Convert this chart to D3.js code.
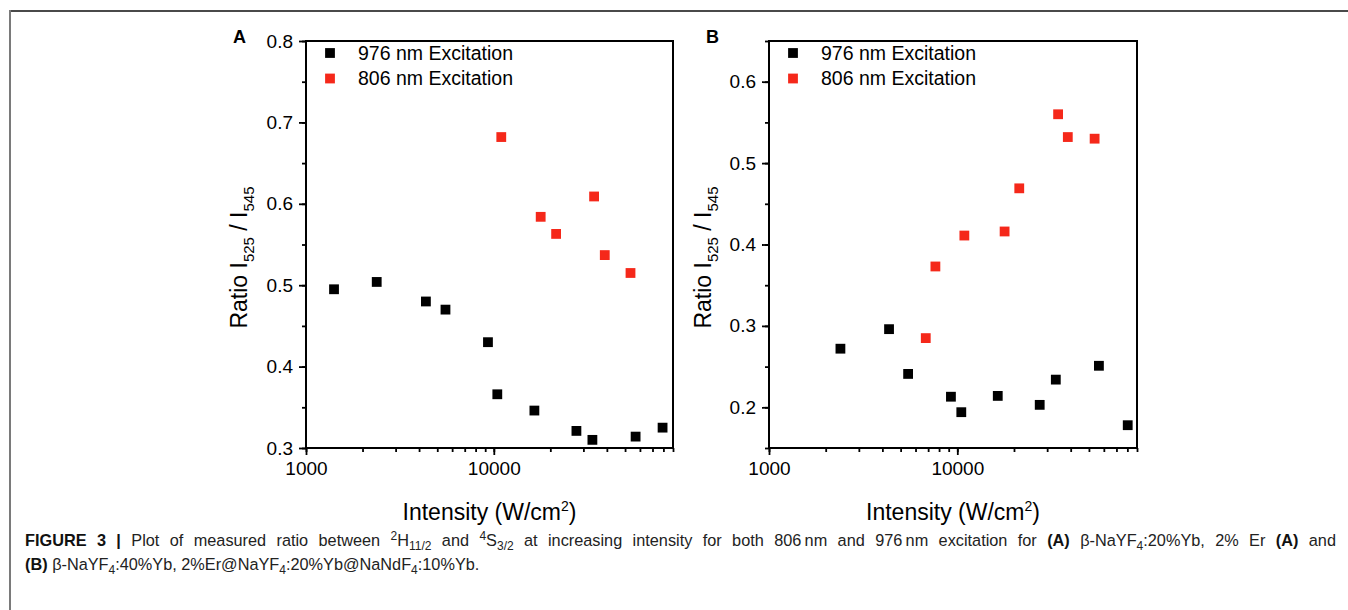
<!DOCTYPE html>
<html>
<head>
<meta charset="utf-8">
<script src="https://cdn.jsdelivr.net/npm/d3@7"></script>
<style>
body { margin: 0; background: #fff; }
text { font-family: "Liberation Sans", Arial, sans-serif; }
</style>
</head>
<body>
<svg id="fig" width="1348" height="610"></svg>
<script>

// legend / series
var seriesNames = ["976 nm Excitation", "806 nm Excitation"];
var seriesColors = ["#000000", "#f5281a"];
var xTickValues = [1000, 10000];

// panel A : b-NaYF4:20%Yb, 2%Er
var a976_x = [1410, 2380, 4350, 5530, 9310, 10440, 16450, 27540, 33500, 56900, 79200];
var a976_y = [0.495, 0.504, 0.480, 0.470, 0.430, 0.366, 0.346, 0.321, 0.310, 0.314, 0.325];
var a806_x = [10960, 17770, 21470, 34200, 38990, 53450];
var a806_y = [0.682, 0.584, 0.563, 0.609, 0.537, 0.515];
var aYTicks = [0.3, 0.4, 0.5, 0.6, 0.7, 0.8];

// panel B : core/shell/shell
var b976_x = [2395, 4340, 5480, 9250, 10500, 16400, 27390, 33350, 56500, 80350];
var b976_y = [0.272, 0.296, 0.241, 0.213, 0.194, 0.214, 0.203, 0.234, 0.251, 0.178];
var b806_x = [6800, 7650, 10900, 17830, 21330, 34300, 38620, 53600];
var b806_y = [0.285, 0.373, 0.411, 0.416, 0.469, 0.560, 0.532, 0.530];
var bYTicks = [0.2, 0.3, 0.4, 0.5, 0.6];

// caption
var captionLine1 = [
  {t: "FIGURE 3 | ", b: 1}, {t: "Plot of measured ratio between "}, {t: "2", s: "sup"}, {t: "H"},
  {t: "11/2", s: "sub"}, {t: " and "}, {t: "4", s: "sup"}, {t: "S"}, {t: "3/2", s: "sub"},
  {t: " at increasing intensity for both 806\u2009nm and 976\u2009nm excitation for "}, {t: "(A)", b: 1},
  {t: " \u03b2-NaYF"}, {t: "4", s: "sub"}, {t: ":20%Yb, 2% Er "}, {t: "(A)", b: 1}, {t: " and"}
];
var captionLine2 = [
  {t: "(B)", b: 1}, {t: " \u03b2-NaYF"}, {t: "4", s: "sub"}, {t: ":40%Yb, 2%Er@NaYF"}, {t: "4", s: "sub"},
  {t: ":20%Yb@NaNdF"}, {t: "4", s: "sub"}, {t: ":10%Yb."}
];


var svg = d3.select("#fig");

// outer figure frame
svg.append("line").attr("x1", 9).attr("x2", 1348).attr("y1", 11).attr("y2", 11)
   .attr("stroke", "#4a4a4a").attr("stroke-width", 2);
svg.append("line").attr("x1", 10).attr("x2", 10).attr("y1", 10).attr("y2", 610)
   .attr("stroke", "#7a7a7a").attr("stroke-width", 2);


function zip(xs, ys) {
  return xs.map(function(d, i) { return {x: d, y: ys[i]}; });
}

function drawPanel(p) {
  var x = d3.scaleLog().domain([1000, 90000]).range([p.left, p.right]);
  var y = d3.scaleLinear().domain(p.yDomain).range([p.bottom, p.top]);

  var g = svg.append("g");

  // minor ticks
  var gxm = g.append("g").attr("transform", "translate(0," + p.bottom + ")")
      .call(d3.axisBottom(x).tickValues(x.ticks()).tickSize(4).tickFormat(""));
  var gym = g.append("g").attr("transform", "translate(" + p.left + ",0)")
      .call(d3.axisLeft(y).tickValues(y.ticks(10)).tickSize(4).tickFormat(""));

  // major ticks
  var gx = g.append("g").attr("transform", "translate(0," + p.bottom + ")")
      .call(d3.axisBottom(x).tickValues(xTickValues).tickSize(7).tickPadding(7).tickFormat(d3.format("d")));
  var gy = g.append("g").attr("transform", "translate(" + p.left + ",0)")
      .call(d3.axisLeft(y).tickValues(p.yTicks).tickSize(7).tickPadding(6).tickFormat(d3.format(".1f")));

  [gxm, gym, gx, gy].forEach(function(a) {
    a.select(".domain").remove();
    a.selectAll("line").attr("stroke", "#000").attr("stroke-width", 1.8);
    a.selectAll("text").attr("fill", "#000").style("font-size", "19px").style("font-family", "Liberation Sans, Arial, sans-serif");
  });

  // frame
  g.append("rect").attr("x", p.left).attr("y", p.top)
    .attr("width", p.right - p.left).attr("height", p.bottom - p.top)
    .attr("fill", "none").attr("stroke", "#000").attr("stroke-width", 2);

  // points
  var sym = d3.symbol().type(d3.symbolSquare).size(96);
  p.series.forEach(function(s, i) {
    g.selectAll(null).data(s).enter().append("path")
      .attr("d", sym)
      .attr("transform", function(d) { return "translate(" + x(d.x) + "," + y(d.y) + ")"; })
      .attr("fill", seriesColors[i]);
  });

  // legend
  seriesNames.forEach(function(name, i) {
    var ly = p.top + 12 + i * 25.5;
    g.append("path").attr("d", sym).attr("fill", seriesColors[i])
      .attr("transform", "translate(" + (p.left + 24) + "," + ly + ")");
    g.append("text").attr("x", p.left + 52).attr("y", ly).attr("dy", "0.35em")
      .style("font-size", "19.5px").text(name);
  });

  // panel letter
  g.append("text").attr("x", p.letterX).attr("y", 43)
    .style("font-size", "18px").style("font-weight", "bold").text(p.letter);

  // x title
  var xt = g.append("text").attr("x", (p.left + p.right) / 2).attr("y", 520)
    .attr("text-anchor", "middle").style("font-size", "23px");
  xt.append("tspan").text("Intensity (W/cm");
  xt.append("tspan").attr("dy", -9).style("font-size", "14px").text("2");
  xt.append("tspan").attr("dy", 9).text(")");

  // y title
  var cy = (p.top + p.bottom) / 2 + 13;
  var yt = g.append("text").attr("transform", "translate(" + p.titleX + "," + cy + ") rotate(-90)")
    .attr("text-anchor", "middle").style("font-size", "23px");
  yt.append("tspan").text("Ratio I");
  yt.append("tspan").attr("dy", 7).style("font-size", "15px").text("525");
  yt.append("tspan").attr("dy", -7).text(" / I");
  yt.append("tspan").attr("dy", 7).style("font-size", "15px").text("545");
}

drawPanel({
  letter: "A", letterX: 233, titleX: 247,
  left: 306, right: 673, top: 41, bottom: 448,
  yDomain: [0.3, 0.8], yTicks: aYTicks,
  series: [zip(a976_x, a976_y), zip(a806_x, a806_y)]
});

drawPanel({
  letter: "B", letterX: 706, titleX: 711,
  left: 769, right: 1137, top: 41, bottom: 448,
  yDomain: [0.15, 0.65], yTicks: bYTicks,
  series: [zip(b976_x, b976_y), zip(b806_x, b806_y)]
});


// caption with super/subscripts; first line justified like the journal layout
function captionLine(segs, yPos, justifyTo) {
  var t = svg.append("text").attr("x", 25).attr("y", yPos)
    .style("font-size", "16.3px").attr("fill", "#222");
  var off = 0;
  segs.forEach(function(s) {
    var target = s.s === "sup" ? -6 : (s.s === "sub" ? 4 : 0);
    var ts = t.append("tspan").attr("dy", target - off).text(s.t);
    off = target;
    if (s.s) ts.style("font-size", "12px");
    if (s.b) ts.style("font-weight", "bold").attr("fill", "#111");
  });
  if (justifyTo) {
    var len = t.node().getComputedTextLength();
    var spaces = segs.map(function(s) { return s.t; }).join("").split(" ").length - 1;
    if (len < justifyTo) t.style("word-spacing", ((justifyTo - len) / spaces) + "px");
  }
}

captionLine(captionLine1, 546, 1311);
captionLine(captionLine2, 570);

</script>
</body>
</html>
